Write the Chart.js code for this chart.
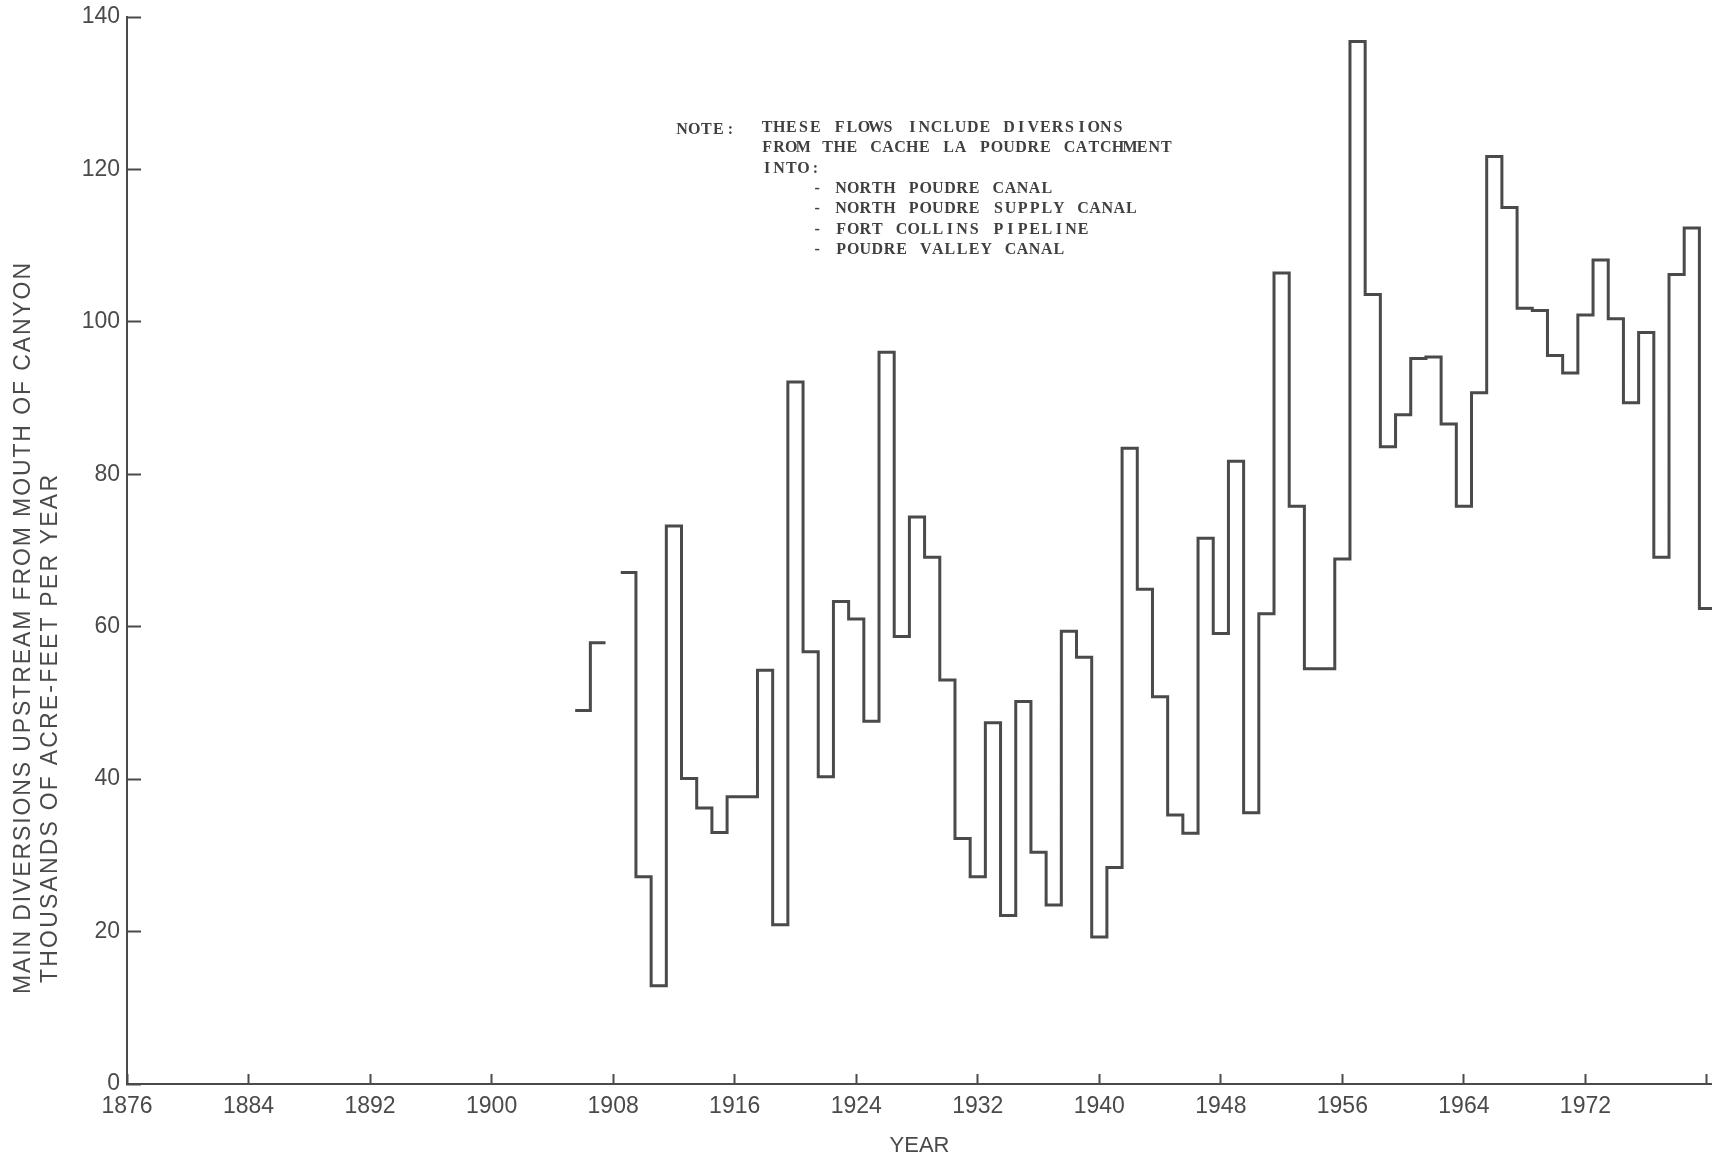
<!DOCTYPE html>
<html>
<head>
<meta charset="utf-8">
<title>Main diversions upstream from mouth of canyon</title>
<script src="https://cdn.jsdelivr.net/npm/chart.js@4.4.1/dist/chart.umd.min.js"></script>
<style>
  html, body { margin: 0; padding: 0; background: #fff; }
  #wrap { width: 1712px; height: 1160px; position: relative; }
</style>
</head>
<body>
<div id="wrap"><canvas id="grafico"></canvas></div>
<script>
// annual diversions, thousands of acre-feet per year (null = no record)
const years = [1906, 1907, 1908, 1909, 1910, 1911, 1912, 1913, 1914, 1915,
    1916, 1917, 1918, 1919, 1920, 1921, 1922, 1923, 1924, 1925,
    1926, 1927, 1928, 1929, 1930, 1931, 1932, 1933, 1934, 1935,
    1936, 1937, 1938, 1939, 1940, 1941, 1942, 1943, 1944, 1945,
    1946, 1947, 1948, 1949, 1950, 1951, 1952, 1953, 1954, 1955,
    1956, 1957, 1958, 1959, 1960, 1961, 1962, 1963, 1964, 1965,
    1966, 1967, 1968, 1969, 1970, 1971, 1972, 1973, 1974, 1975,
    1976, 1977, 1978, 1979, 1980];
const diversions = [49.0, 57.9, null, 67.1, 27.2, 12.9, 73.2, 40.1, 36.2, 33.0,
    37.7, 37.7, 54.3, 20.9, 92.1, 56.7, 40.3, 63.3, 61.0, 47.6,
    96.0, 58.7, 74.4, 69.1, 53.0, 32.2, 27.2, 47.4, 22.1, 50.2,
    30.4, 23.5, 59.4, 56.0, 19.3, 28.4, 83.4, 64.9, 50.8, 35.3,
    32.9, 71.6, 59.1, 81.7, 35.6, 61.7, 106.4, 75.8, 54.5, 54.5,
    68.9, 136.8, 103.6, 83.6, 87.8, 95.2, 95.4, 86.6, 75.8, 90.7,
    121.7, 115.0, 101.8, 101.5, 95.6, 93.3, 100.9, 108.1, 100.4, 89.4,
    98.6, 69.1, 106.2, 112.3, 62.4];
const yearTicks = [1876, 1884, 1892, 1900, 1908, 1916, 1924, 1932, 1940, 1948, 1956, 1964, 1972, 1980];
const flowTicks = [0, 20, 40, 60, 80, 100, 120, 140];

const yTitle = ['MAIN DIVERSIONS UPSTREAM FROM MOUTH OF CANYON', 'THOUSANDS OF ACRE-FEET PER YEAR'];
const noteHead = 'NOTE:';
const noteLines = ['THESE FLOWS INCLUDE DIVERSIONS', 'FROM THE CACHE LA POUDRE CATCHMENT', 'INTO:'];
const noteItems = ['NORTH POUDRE CANAL', 'NORTH POUDRE SUPPLY CANAL', 'FORT COLLINS PIPELINE', 'POUDRE VALLEY CANAL'];

const gris = '#4a4a4a';
const fuente = '"Liberation Sans", Arial, sans-serif';

// each year is a flat step from year-0.5 to year+0.5
const puntos = [];
for (let i = 0; i < years.length; i++) {
    const v = diversions[i];
    if (v === null) {
        puntos.push({x: years[i], y: null});
        continue;
    }
    puntos.push({x: years[i] - 0.5, y: v});
    if (i === years.length - 1 || diversions[i + 1] === null) {
        puntos.push({x: years[i] + 0.5, y: v});
    }
}

// typewriter style: one character per fixed cell
function maquina(ctx, txt, x, y, paso) {
    for (let k = 0; k < txt.length; k++) {
        ctx.fillText(txt[k], x + k * paso + paso / 2, y);
    }
}

// texts drawn straight on the canvas (axis title and the note)
const textos = {
    id: 'textos',
    afterDraw(chart) {
        const ctx = chart.ctx;
        ctx.save();
        ctx.fillStyle = gris;
        ctx.textBaseline = 'middle';
        ctx.textAlign = 'left';

        // y title, two rotated lines
        const tx = [24, 51];
        const ty = [994, 983];
        const largo = [731, 508];
        ctx.font = '23px ' + fuente;
        for (let i = 0; i < yTitle.length; i++) {
            ctx.save();
            ctx.letterSpacing = '0px';
            const w = ctx.measureText(yTitle[i]).width;
            ctx.letterSpacing = ((largo[i] - w) / (yTitle[i].length - 1)) + 'px';
            ctx.translate(tx[i], ty[i]);
            ctx.rotate(-Math.PI / 2);
            ctx.fillText(yTitle[i], 0, 0);
            ctx.restore();
        }

        // note
        ctx.letterSpacing = '0px';
        ctx.fillStyle = '#404040';
        ctx.textAlign = 'center';
        ctx.font = 'bold 16px "Liberation Serif", "Times New Roman", serif';
        const paso = 12.1;
        const salto = 20.3;
        maquina(ctx, noteHead, 676, 130, paso);
        noteLines.forEach((t, i) => maquina(ctx, t, 761, 128 + i * salto, paso));
        noteItems.forEach((t, i) => {
            const y = 128 + (i + 3) * salto;
            maquina(ctx, '-', 811, y, paso);
            maquina(ctx, t, 835, y, paso);
        });
        ctx.restore();
    }
};

const ctx = document.getElementById('grafico').getContext('2d');
new Chart(ctx, {
    type: 'line',
    data: {
        datasets: [{
            data: puntos,
            stepped: true,
            spanGaps: false,
            borderColor: '#4a4a4a',
            borderWidth: 3,
            pointRadius: 0,
            fill: false
        }]
    },
    options: {
        responsive: true,
        maintainAspectRatio: false,
        devicePixelRatio: 1,
        animation: false,
        layout: {autoPadding: false, padding: {top: 17, right: 0, bottom: 0, left: 0}},
        plugins: {
            legend: {display: false},
            tooltip: {enabled: false}
        },
        scales: {
            x: {
                type: 'linear',
                min: 1876,
                max: 1980.33,
                afterBuildTicks: (scale) => { scale.ticks = yearTicks.map(v => ({value: v})); },
                afterFit: (scale) => {
                    scale.height = 76;
                    scale.paddingLeft = 0;
                    scale.paddingRight = 0;
                },
                grid: {drawOnChartArea: false, drawTicks: true, tickLength: -10, tickColor: gris, tickWidth: 2},
                border: {color: gris, width: 2},
                ticks: {
                    color: gris,
                    font: {family: fuente, size: 23},
                    padding: 19,
                    maxRotation: 0,
                    autoSkip: false,
                    callback: (v) => (v === 1980 ? '' : String(v))
                },
                title: {
                    display: true,
                    text: 'YEAR',
                    color: gris,
                    font: {family: fuente, size: 22},
                    padding: {top: 0, bottom: 1}
                }
            },
            y: {
                min: 0,
                max: 140,
                afterBuildTicks: (scale) => { scale.ticks = flowTicks.map(v => ({value: v})); },
                afterFit: (scale) => {
                    scale.width = 127;
                    scale.paddingTop = 0;
                    scale.paddingBottom = 0;
                },
                grid: {drawOnChartArea: false, drawTicks: true, tickLength: -14, tickColor: gris, tickWidth: 2},
                border: {color: gris, width: 2},
                ticks: {
                    color: gris,
                    font: {family: fuente, size: 23},
                    padding: 21
                }
            }
        }
    },
    plugins: [textos]
});
</script>
</body>
</html>
